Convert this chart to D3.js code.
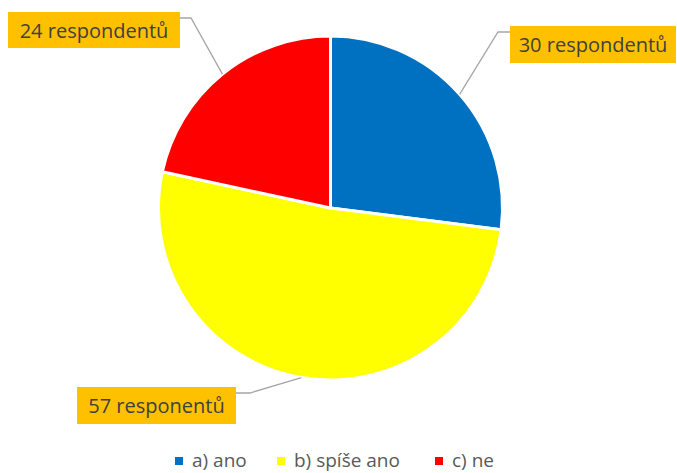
<!DOCTYPE html>
<html>
<head>
<meta charset="utf-8">
<script src="https://cdn.jsdelivr.net/npm/d3@7"></script>
<style>
  body { margin: 0; background: #fff; }
  text { font-family: "Open Sans", "Noto Sans", sans-serif; }
</style>
</head>
<body>
<div id="vis"></div>
<script>
// chart values
const CATEGORIES = ["a) ano", "b) spíše ano", "c) ne"];
const VALUES = [30, 57, 24];
const LABELS = ["30 respondentů", "57 responentů", "24 respondentů"];
const COLORS = ["#0070C0", "#FFFF00", "#FF0000"];

// frame
const FRAME_WIDTH = 677;
const FRAME_HEIGHT = 473;
const CENTER = {x: 330.5, y: 208};
const RADIUS = 172;

// label boxes (layout only)
const BOXES = [
  {x: 510, y: 26, w: 166, h: 37, elbow: 498, side: "left"},
  {x: 77, y: 387, w: 159, h: 37, elbow: 250, side: "right"},
  {x: 8, y: 12, w: 172, h: 36, elbow: 191, side: "right"}
];

const FRAME = d3.select("#vis")
                .append("svg")
                  .attr("width", FRAME_WIDTH)
                  .attr("height", FRAME_HEIGHT);

const pie = d3.pie().sort(null).value((d) => d);
const arcs = pie(VALUES);

const arc = d3.arc().innerRadius(0).outerRadius(RADIUS);

const G = FRAME.append("g")
               .attr("transform", "translate(" + CENTER.x + "," + CENTER.y + ")");

// slices
G.selectAll("path")
  .data(arcs)
  .enter()
  .append("path")
    .attr("d", arc)
    .attr("fill", (d, i) => COLORS[i])
    .attr("stroke", "#fff")
    .attr("stroke-width", 3)
    .attr("stroke-linejoin", "round");

// leader lines: from the slice edge midpoint to the label box
arcs.forEach((d, i) => {
  const mid = (d.startAngle + d.endAngle) / 2;
  const px = CENTER.x + RADIUS * Math.sin(mid);
  const py = CENTER.y - RADIUS * Math.cos(mid);
  const b = BOXES[i];
  const bx = b.side === "left" ? b.x : b.x + b.w;
  const by = b.y + 6;
  FRAME.append("polyline")
    .attr("points", [[px, py], [b.elbow, by], [bx, by]].map((p) => p.join(",")).join(" "))
    .attr("fill", "none")
    .attr("stroke", "#A6A6A6")
    .attr("stroke-width", 1.3);
});

// label boxes
BOXES.forEach((b, i) => {
  FRAME.append("rect")
    .attr("x", b.x)
    .attr("y", b.y)
    .attr("width", b.w)
    .attr("height", b.h)
    .attr("fill", "#FFC000");
  FRAME.append("text")
    .attr("x", b.x + b.w / 2)
    .attr("y", b.y + 26)
    .attr("text-anchor", "middle")
    .attr("font-size", "20px")
    .attr("fill", "#404040")
    .text(LABELS[i]);
});

// legend
const LEGEND_X = [175, 277, 435];
const legend = FRAME.selectAll(".legend")
  .data(CATEGORIES)
  .enter()
  .append("g")
    .attr("class", "legend")
    .attr("transform", (d, i) => "translate(" + LEGEND_X[i] + ",457)");

legend.append("rect")
  .attr("width", 8)
  .attr("height", 8)
  .attr("fill", (d, i) => COLORS[i]);

legend.append("text")
  .attr("x", 17)
  .attr("y", 10)
  .attr("font-size", "19px")
  .attr("fill", "#595959")
  .text((d) => d);
</script>
</body>
</html>
